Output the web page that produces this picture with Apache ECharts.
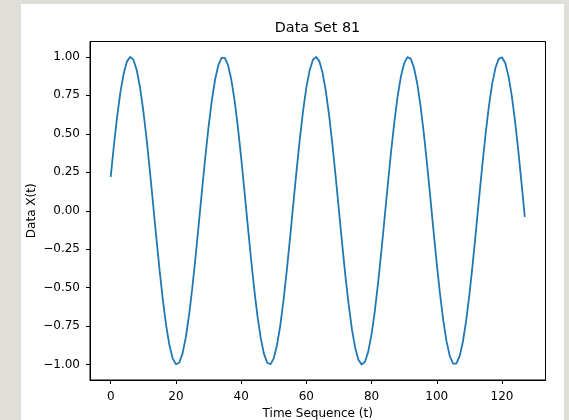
<!DOCTYPE html>
<html>
<head>
<meta charset="utf-8">
<script src="https://cdn.jsdelivr.net/npm/echarts@6/dist/echarts.min.js"></script>
<style>
html,body{margin:0;padding:0;background:#e0ded9;}
#chart{width:569px;height:420px;}
</style>
</head>
<body>
<div id="chart"></div>
<script>
var titleText = 'Data Set 81';
var xAxisLabel = 'Time Sequence (t)';
var yAxisLabel = 'Data X(t)';
var xTicks = [0, 20, 40, 60, 80, 100, 120];
var yTicks = [-1.0, -0.75, -0.5, -0.25, 0.0, 0.25, 0.5, 0.75, 1.0];
var tValues = [0,1,2,3,4,5,6,7,8,9,10,11,12,13,14,15,16,17,18,19,20,21,22,23,24,25,26,27,28,29,30,31,32,33,34,35,36,37,38,39,40,41,42,43,44,45,46,47,48,49,50,51,52,53,54,55,56,57,58,59,60,61,62,63,64,65,66,67,68,69,70,71,72,73,74,75,76,77,78,79,80,81,82,83,84,85,86,87,88,89,90,91,92,93,94,95,96,97,98,99,100,101,102,103,104,105,106,107,108,109,110,111,112,113,114,115,116,117,118,119,120,121,122,123,124,125,126,127];
var xValues = [
 0.220, 0.429, 0.617, 0.774, 0.894, 0.971, 1.000, 0.980, 0.913, 0.801,
 0.650, 0.468, 0.262, 0.044, -0.176, -0.388, -0.581, -0.745, -0.873, -0.959,
 -0.998, -0.988, -0.930, -0.827, -0.683, -0.507, -0.305, -0.089, 0.132, 0.346,
 0.544, 0.715, 0.851, 0.945, 0.994, 0.994, 0.946, 0.851, 0.716, 0.545,
 0.347, 0.133, -0.088, -0.304, -0.506, -0.683, -0.826, -0.930, -0.988, -0.998,
 -0.959, -0.874, -0.746, -0.582, -0.389, -0.178, 0.043, 0.261, 0.466, 0.649,
 0.800, 0.912, 0.980, 1.000, 0.971, 0.895, 0.775, 0.618, 0.430, 0.221,
 0.002, -0.218, -0.426, -0.614, -0.773, -0.893, -0.970, -1.000, -0.981, -0.914,
 -0.803, -0.652, -0.470, -0.265, -0.047, 0.174, 0.385, 0.578, 0.743, 0.872,
 0.958, 0.998, 0.989, 0.931, 0.829, 0.685, 0.509, 0.308, 0.092, -0.129,
 -0.344, -0.541, -0.713, -0.849, -0.944, -0.994, -0.994, -0.947, -0.853, -0.717,
 -0.547, -0.350, -0.136, 0.085, 0.301, 0.503, 0.681, 0.825, 0.929, 0.987,
 0.998, 0.960, 0.875, 0.748, 0.584, 0.392, 0.180, -0.040
];

var seriesData = tValues.map(function (t, i) { return [t, xValues[i]]; });
var fontFamily = 'DejaVu Sans';

var chart = echarts.init(document.getElementById('chart'), null, {renderer: 'canvas'});
chart.setOption({
  animation: false,
  backgroundColor: '#e0ded9',
  graphic: [
    {type: 'rect', z: -10, silent: true, shape: {x: 21, y: 4, width: 543, height: 416}, style: {fill: '#ffffff'}},
    {type: 'text', x: 317.5, y: 28, style: {text: titleText, font: '14.4px "DejaVu Sans"', fill: '#000', textAlign: 'center', textVerticalAlign: 'middle'}}
  ],
  grid: {left: 90, right: 23.5, top: 41.5, bottom: 40, outerBoundsMode: 'none', containLabel: false,
    show: true, borderColor: '#000', borderWidth: 1, backgroundColor: '#fff'},
  xAxis: {
    type: 'value', min: -6.35, max: 133.35,
    name: xAxisLabel, nameLocation: 'middle', nameGap: 28, nameMoveOverlap: false,
    nameTextStyle: {fontFamily: fontFamily, fontSize: 12, color: '#000'},
    axisLine: {show: true, onZero: false, lineStyle: {color: '#000', width: 1}},
    axisTick: {show: true, length: 4, customValues: xTicks, lineStyle: {color: '#000', width: 1}},
    axisLabel: {customValues: xTicks, margin: 11, fontFamily: fontFamily, fontSize: 12, color: '#000'},
    splitLine: {show: false}
  },
  yAxis: {
    type: 'value', min: -1.1, max: 1.1,
    name: yAxisLabel, nameLocation: 'middle', nameGap: 52, nameMoveOverlap: false,
    nameTextStyle: {fontFamily: fontFamily, fontSize: 12, color: '#000'},
    axisLine: {show: true, onZero: false, lineStyle: {color: '#000', width: 1}},
    axisTick: {show: true, length: 4, customValues: yTicks, lineStyle: {color: '#000', width: 1}},
    axisLabel: {customValues: yTicks, margin: 10, fontFamily: fontFamily, fontSize: 12, color: '#000',
      formatter: function (v) { return v.toFixed(2).replace('-', '\u2212'); }},
    splitLine: {show: false}
  },
  series: [{
    type: 'line', data: seriesData, showSymbol: false, symbol: 'none',
    lineStyle: {color: '#1f77b4', width: 1.8}, z: 3
  }]
});
</script>
</body>
</html>
